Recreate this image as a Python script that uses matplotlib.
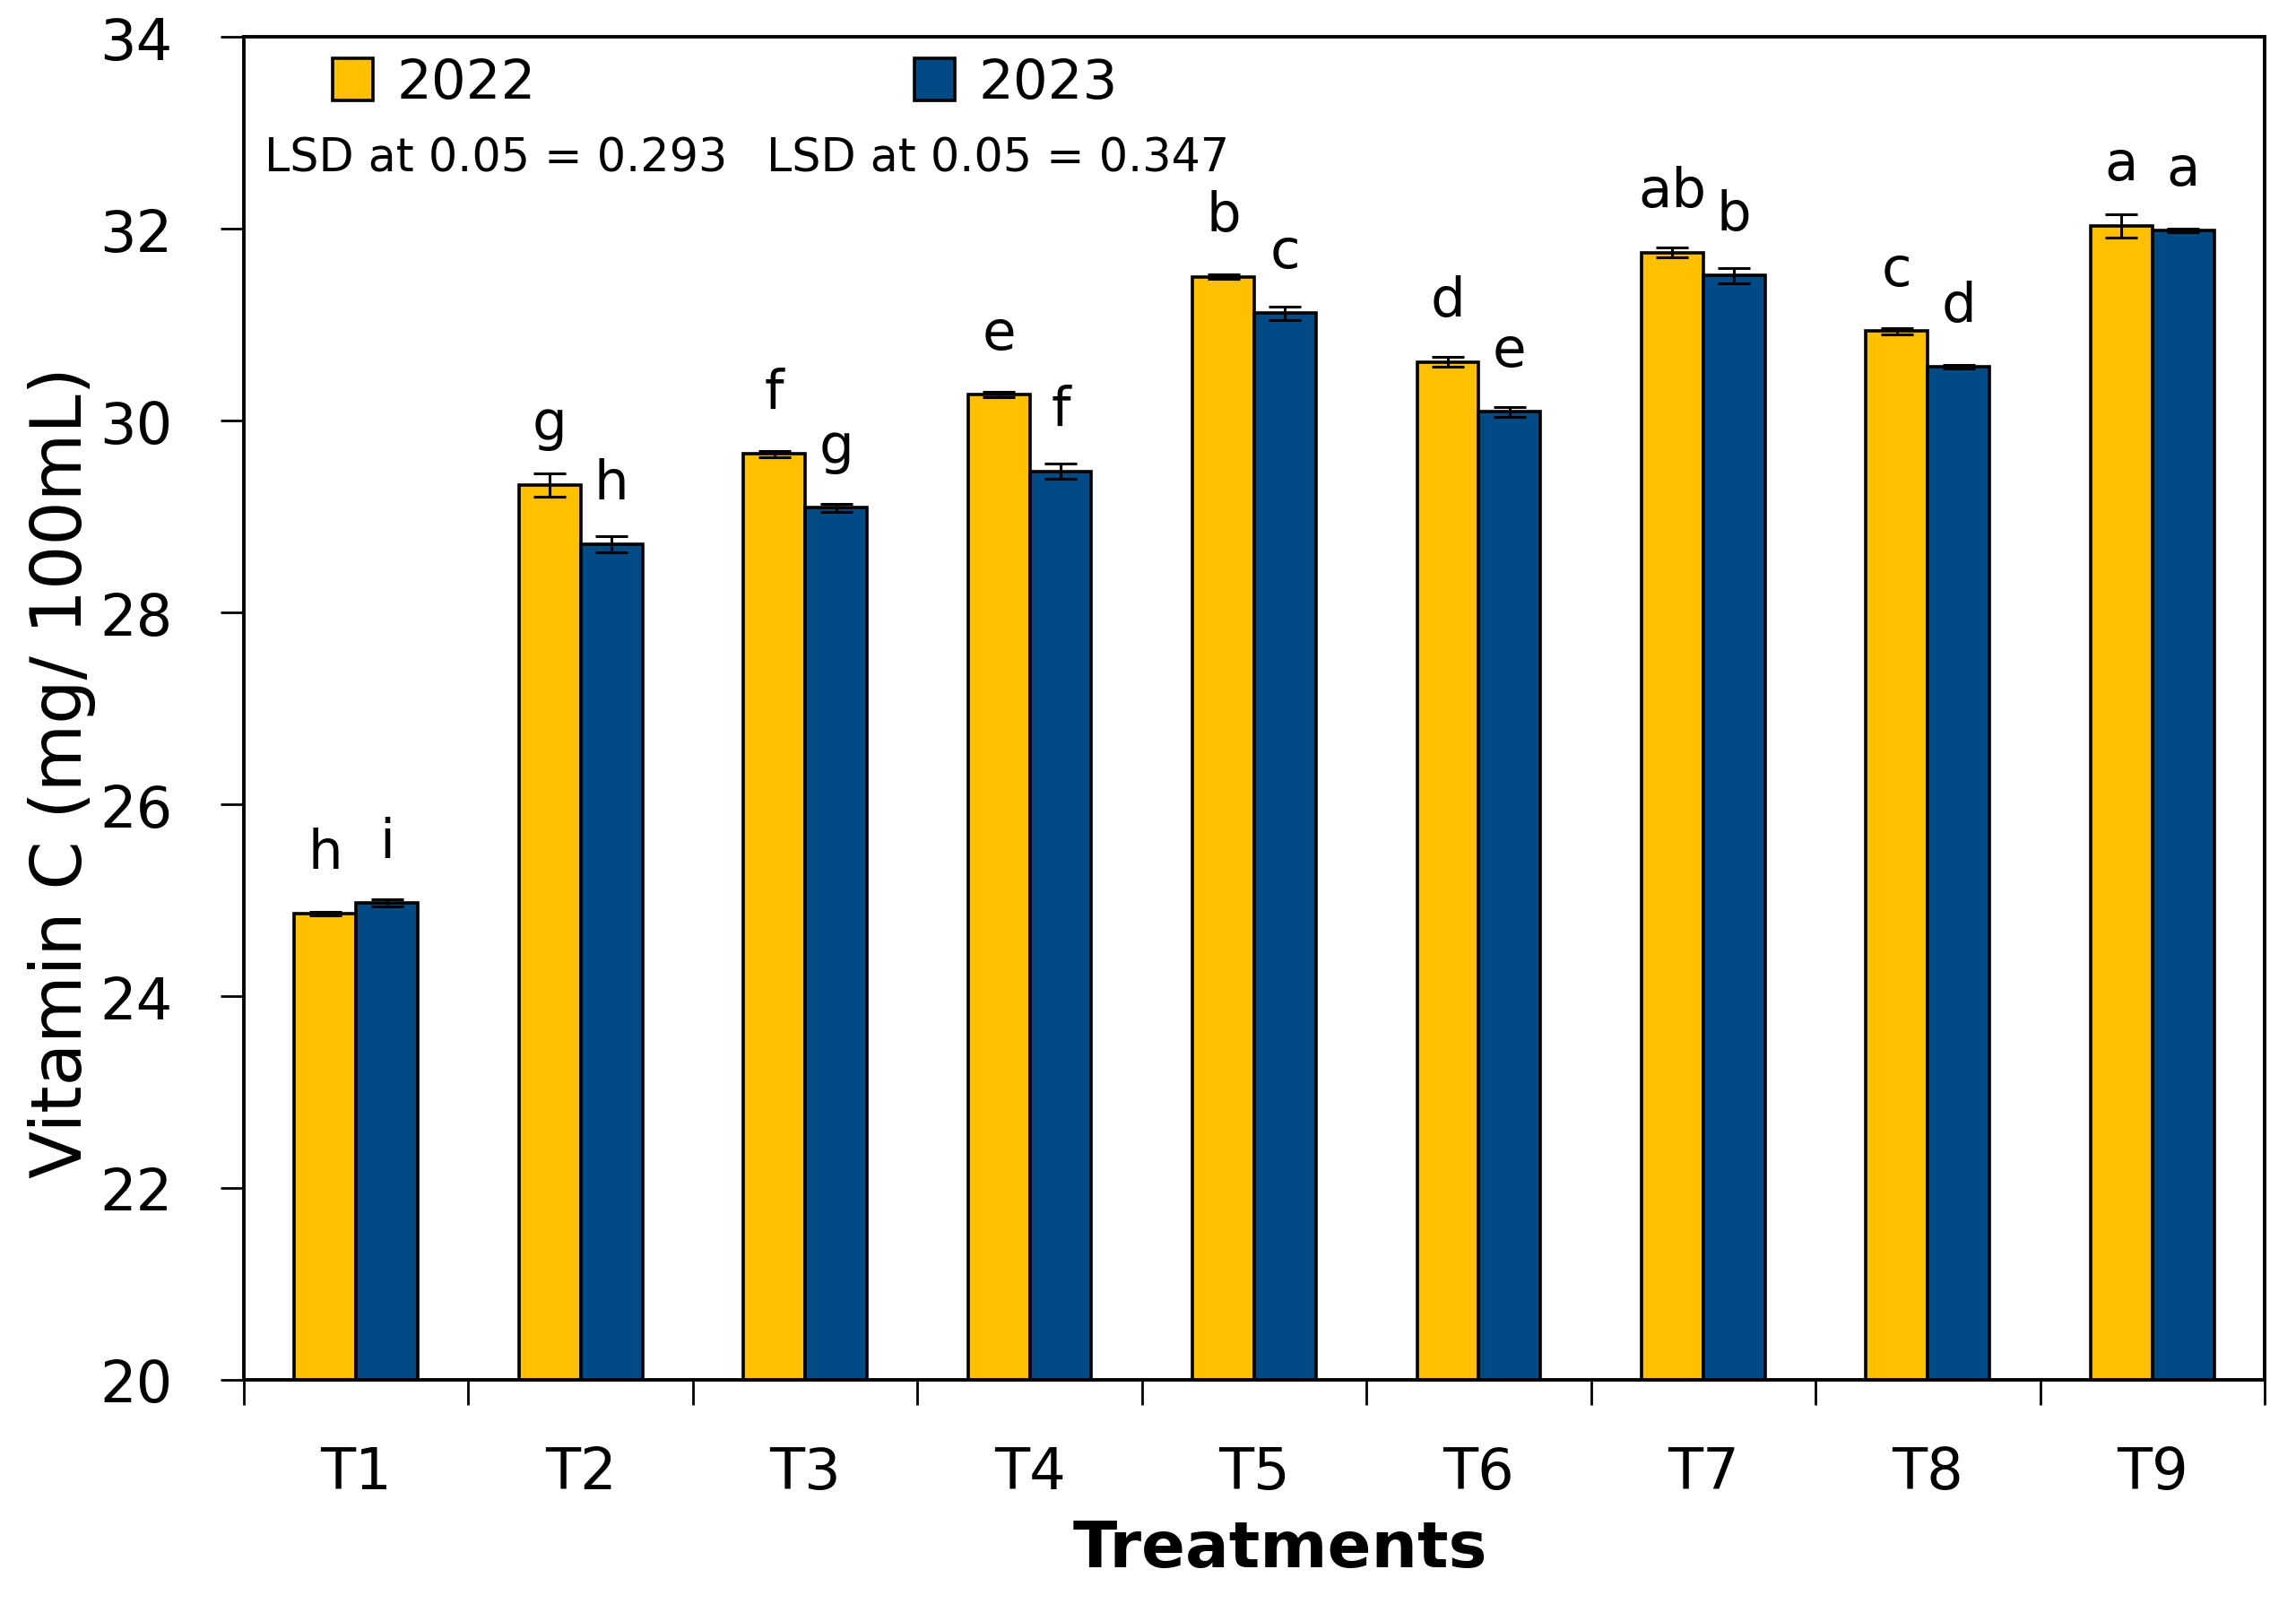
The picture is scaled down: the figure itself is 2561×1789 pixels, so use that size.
import numpy as np
import matplotlib.pyplot as plt

# values
treatments = ['T1', 'T2', 'T3', 'T4', 'T5', 'T6', 'T7', 'T8', 'T9']
vit_2022 = [24.86, 29.33, 29.65, 30.27, 31.50, 30.61, 31.75, 30.93, 32.03]
vit_2023 = [24.97, 28.71, 29.09, 29.47, 31.12, 30.09, 31.51, 30.56, 31.98]
err_2022 = [0.02, 0.12, 0.03, 0.03, 0.02, 0.05, 0.05, 0.03, 0.12]
err_2023 = [0.04, 0.08, 0.04, 0.08, 0.07, 0.05, 0.08, 0.02, 0.02]
let_2022 = ['h', 'g', 'f', 'e', 'b', 'd', 'ab', 'c', 'a']
let_2023 = ['i', 'h', 'g', 'f', 'c', 'e', 'b', 'd', 'a']
lsd_2022 = 0.293
lsd_2023 = 0.347

c22 = '#FFC000'
c23 = '#004A86'

W, H = 2561, 1790
fig = plt.figure(figsize=(W / 100, H / 100), dpi=100)
ax = fig.add_axes([272 / W, 1 - 1540 / H, (2526 - 272) / W, (1540 - 42) / H])

x = np.arange(len(treatments))
bw = 0.275
ek = dict(ecolor='black', elinewidth=2.2, capsize=13, capthick=2.2)
ax.bar(x - bw / 2, vit_2022, bw, color=c22, edgecolor='black', linewidth=2.6,
       yerr=err_2022, error_kw=ek, label='2022', zorder=2)
ax.bar(x + bw / 2, vit_2023, bw, color=c23, edgecolor='black', linewidth=2.6,
       yerr=err_2023, error_kw=ek, label='2023', zorder=2)

# significance letters
for i in range(len(treatments)):
    ax.text(x[i] - bw / 2, vit_2022[i] + 0.48, let_2022[i], ha='center',
            va='baseline', fontsize=44)
    ax.text(x[i] + bw / 2, vit_2023[i] + 0.48, let_2023[i], ha='center',
            va='baseline', fontsize=44)

ax.set_xlim(-0.5, len(treatments) - 0.5)
ax.set_ylim(20, 34)
ax.set_yticks(np.arange(20, 35, 2))
ax.tick_params(axis='y', direction='out', length=19, width=2, pad=38,
               labelsize=46)

# ticks between groups, labels at group centres
ax.set_xticks(np.arange(-0.5, len(treatments), 1))
ax.set_xticklabels([])
ax.set_xticks(x, minor=True)
ax.set_xticklabels(treatments, minor=True)
ax.tick_params(axis='x', which='major', direction='out', length=20, width=2)
ax.tick_params(axis='x', which='minor', length=0, pad=52, labelsize=46)

for s in ax.spines.values():
    s.set_linewidth(2.8)

ax.set_ylabel('Vitamin C (mg/ 100mL)', fontsize=56)
ax.yaxis.set_label_coords(-0.073, 0.453)
ax.set_xlabel('Treatments', fontsize=52, fontweight='bold')
ax.xaxis.set_label_coords(0.513, -0.103)

leg = ax.legend(loc='upper left', bbox_to_anchor=(0.044, 0.985), ncol=2,
                frameon=False, fontsize=44, borderpad=0, borderaxespad=0,
                handlelength=0.74, handleheight=0.8, handletextpad=0.43,
                columnspacing=6.9)

ax.text(0.0102, 0.900, f'LSD at 0.05 = {lsd_2022}', transform=ax.transAxes,
        fontsize=36.5, va='baseline', ha='left')
ax.text(0.2587, 0.900, f'LSD at 0.05 = {lsd_2023}', transform=ax.transAxes,
        fontsize=36.5, va='baseline', ha='left')

fig.savefig('out.png', dpi=100)
